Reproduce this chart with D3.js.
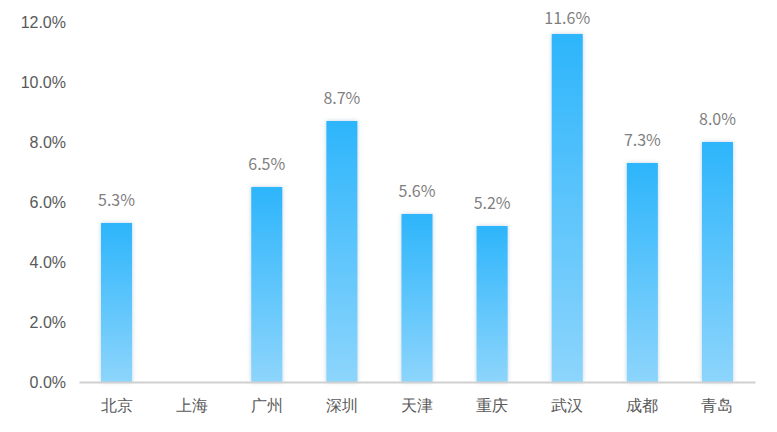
<!DOCTYPE html>
<html>
<head>
<meta charset="utf-8">
<script src="https://cdn.jsdelivr.net/npm/d3@7"></script>
<style>
  html, body { margin: 0; padding: 0; background: #fff; }
  svg { display: block; font-family: "Noto Sans CJK SC", "Noto Sans", sans-serif; }
</style>
</head>
<body>
<svg id="chart" width="777" height="432"></svg>
<script>
// data (上海 has no bar)
const cities = ["北京", "上海", "广州", "深圳", "天津", "重庆", "武汉", "成都", "青岛"];
const rates  = [5.3, null, 6.5, 8.7, 5.6, 5.2, 11.6, 7.3, 8.0];
const yTicks = [0, 2, 4, 6, 8, 10, 12];

const svg = d3.select("#chart");
const margin = {top: 22, right: 22, bottom: 50, left: 79};
const width = 777 - margin.left - margin.right,
      height = 432 - margin.top - margin.bottom;

// gradient + soft glow for the bars
const defs = svg.append("defs");
const grad = defs.append("linearGradient")
  .attr("id", "barGrad").attr("x1", 0).attr("y1", 0).attr("x2", 0).attr("y2", 1);
grad.append("stop").attr("offset", "0%").attr("stop-color", "#2db5fb");
grad.append("stop").attr("offset", "100%").attr("stop-color", "#8dd5fc");

const glow = defs.append("filter").attr("id", "glow")
  .attr("x", "-30%").attr("y", "-10%").attr("width", "160%").attr("height", "120%");
glow.append("feDropShadow")
  .attr("dx", 0).attr("dy", 0).attr("stdDeviation", 2)
  .attr("flood-color", "#7fa8c8").attr("flood-opacity", 0.5);

const g = svg.append("g").attr("transform", "translate(" + margin.left + "," + margin.top + ")");

let x = d3.scaleBand()
  .domain(cities)
  .range([0, width])
  .paddingInner(0.587)
  .paddingOuter(0.293);

let y = d3.scaleLinear()
  .domain([0, 12])
  .range([height, 0]);

// y axis labels only
g.append("g")
  .call(d3.axisLeft(y).tickValues(yTicks).tickSize(0).tickPadding(13)
    .tickFormat(d => d.toFixed(1) + "%"))
  .call(a => a.select(".domain").remove())
  .selectAll("text")
  .attr("fill", "#595959")
  .style("font-size", "16px");

const data = cities.map((c, i) => ({city: c, v: rates[i]})).filter(d => d.v != null);

// value labels sit above the bar, but never above the top of the picture
g.selectAll(".val")
  .data(data)
  .enter().append("text")
  .attr("class", "val")
  .attr("x", d => x(d.city) + x.bandwidth() / 2)
  .attr("y", d => Math.max(y(d.v) - 17, 2))
  .attr("text-anchor", "middle")
  .attr("fill", "#7f7f7f")
  .style("font-size", "16px")
  .text(d => d.v.toFixed(1) + "%");

g.selectAll(".bar")
  .data(data)
  .enter().append("rect")
  .attr("class", "bar")
  .attr("x", d => x(d.city))
  .attr("y", d => y(d.v))
  .attr("width", x.bandwidth())
  .attr("height", d => height - y(d.v))
  .attr("fill", "url(#barGrad)")
  .attr("filter", "url(#glow)");

// x axis
g.append("g")
  .attr("transform", "translate(0," + height + ")")
  .call(d3.axisBottom(x).tickSize(0).tickPadding(18))
  .call(a => a.select(".domain").attr("stroke", "#d0d0d0").attr("stroke-width", 2))
  .selectAll("text")
  .attr("fill", "#595959")
  .style("font-size", "16px");
</script>
</body>
</html>
